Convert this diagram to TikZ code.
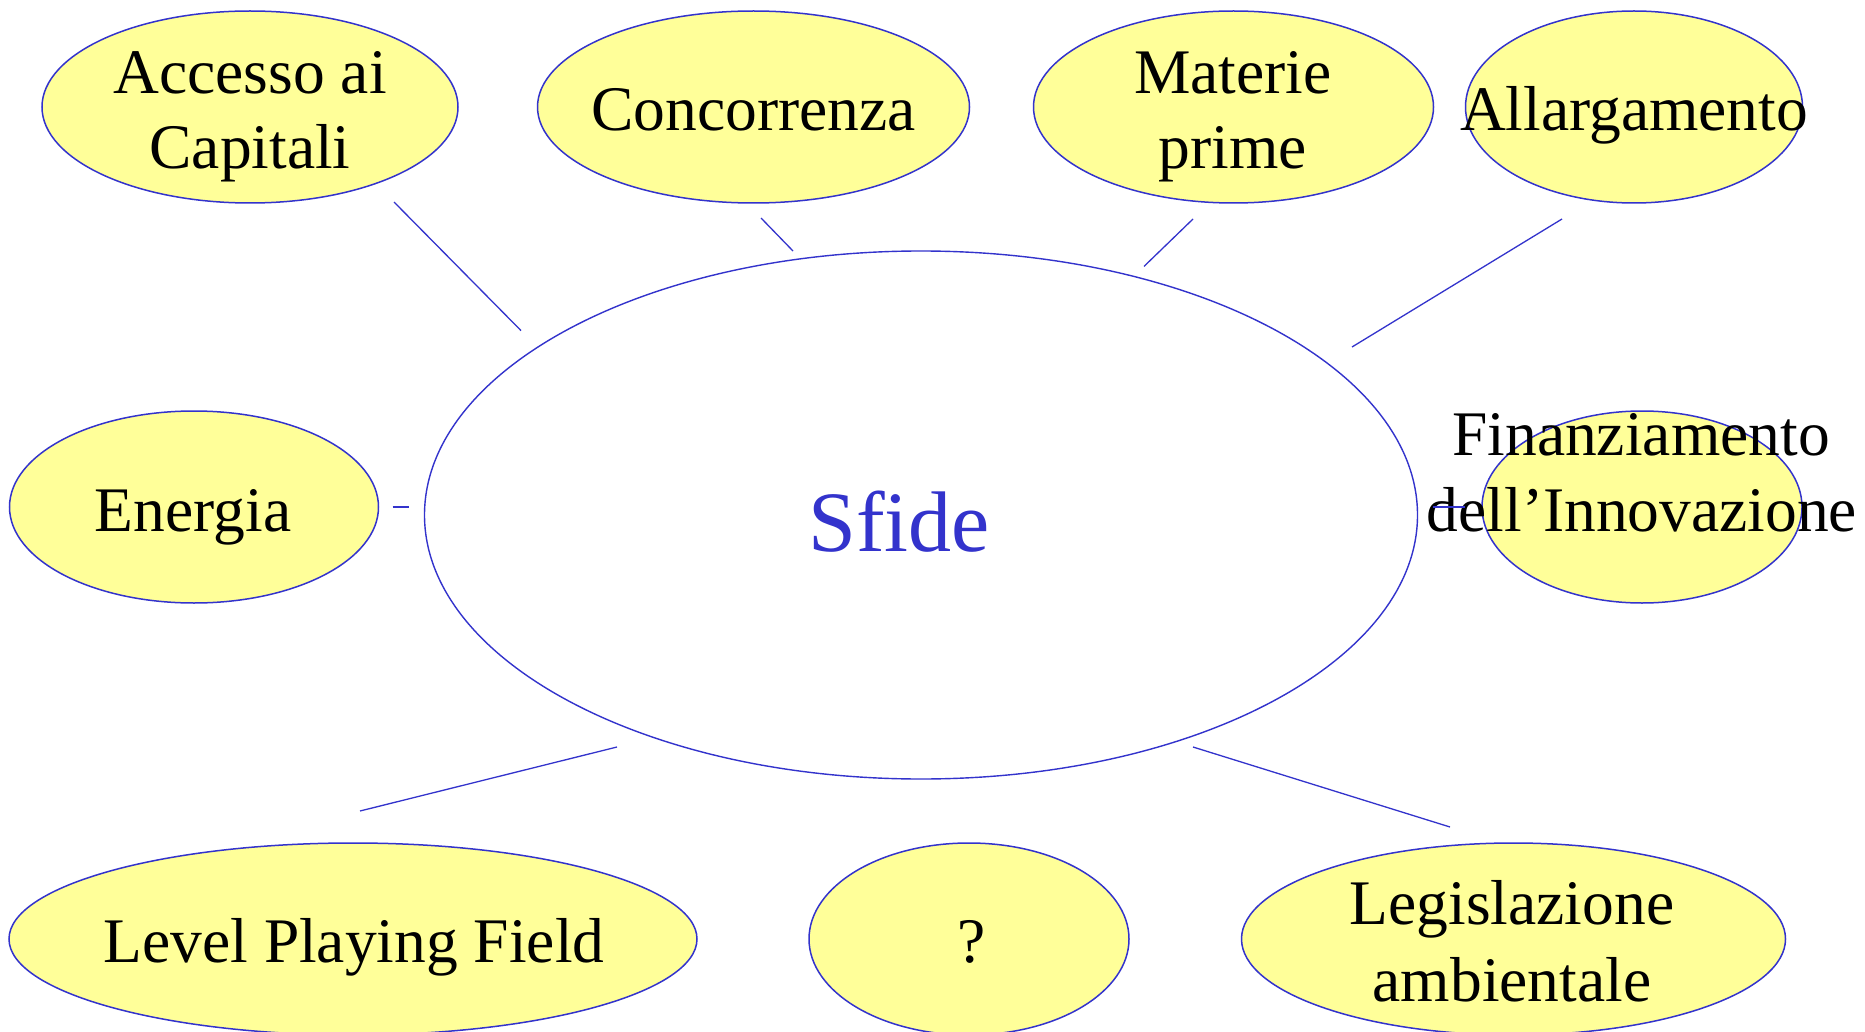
\documentclass[tikz,border=0pt]{standalone}
\usepackage{fontspec}
\setmainfont{Liberation Serif}
\usetikzlibrary{shapes.geometric}
\definecolor{lineblue}{RGB}{51,51,204}
\definecolor{paleyellow}{RGB}{255,255,153}
\tikzset{
  bubble/.style={ellipse, draw=lineblue, line width=1.5pt, fill=paleyellow, inner sep=0pt},
  hub/.style={ellipse, draw=lineblue, line width=1.4pt, fill=white, inner sep=0pt},
  lbl/.style={anchor=base, inner sep=0pt, font=\fontsize{63.5}{77}\selectfont},
  link/.style={draw=lineblue, line width=1.3pt}
}
\begin{document}
\begin{tikzpicture}[x=1pt,y=-1pt]
\useasboundingbox[fill=white] (0,0) rectangle (1865,1032);
% ellipses
\node[hub, minimum width=993pt, minimum height=528pt] (sfide) at (921,515) {};
\node[bubble, minimum width=416pt, minimum height=192pt] (acc) at (250,107) {};
\node[bubble, minimum width=432pt, minimum height=192pt] (conc) at (753.5,107) {};
\node[bubble, minimum width=400pt, minimum height=192pt] (mat) at (1233.5,107) {};
\node[bubble, minimum width=337pt, minimum height=192pt] (all) at (1634,107) {};
\node[bubble, minimum width=369pt, minimum height=192pt] (ene) at (194,507) {};
\node[bubble, minimum width=320pt, minimum height=192pt] (fin) at (1642,507) {};
\node[bubble, minimum width=688pt, minimum height=192pt] (lpf) at (353,939) {};
\node[bubble, minimum width=320pt, minimum height=192pt] (qm) at (969,939) {};
\node[bubble, minimum width=544pt, minimum height=192pt] (leg) at (1513.5,939) {};
% texts
\node[anchor=base, inner sep=0pt, text=lineblue, font=\fontsize{86}{100}\selectfont] (tsfide) at (899,551) {Sfide};
\node[lbl] (tacc1) at (250,93.5) {Accesso ai};
\node[lbl] (tacc2) at (250,168.5) {Capitali};
\node[lbl] (tconc) at (753.5,131) {Concorrenza};
\node[lbl] (tmat1) at (1233,93.5) {Materie};
\node[lbl] (tmat2) at (1233,168.5) {prime};
\node[lbl] (tall) at (1634,131) {Allargamento};
\node[lbl] (tene) at (193,531) {Energia};
\node[lbl] (tfin1) at (1641,455) {Finanziamento};
\node[lbl] (tfin2) at (1642,531.5) {dell’Innovazione};
\node[lbl] (tlpf) at (354,962.5) {Level Playing Field};
\node[lbl] (tqm) at (972,962.5) {?};
\node[lbl] (tleg1) at (1512,924.5) {Legislazione};
\node[lbl] (tleg2) at (1512,1001) {ambientale};
% connector end points
\coordinate (a1) at (394,202); \coordinate (a2) at (521,330.6);
\coordinate (c1) at (761,218); \coordinate (c2) at (793,251);
\coordinate (m1) at (1193,219); \coordinate (m2) at (1144,266.4);
\coordinate (l1) at (1562,219); \coordinate (l2) at (1352,347);
\coordinate (e1) at (392.5,507); \coordinate (e2) at (409,507);
\coordinate (f1) at (1433,507); \coordinate (f2) at (1465,507);
\coordinate (p1) at (617,747); \coordinate (p2) at (360,811);
\coordinate (g1) at (1193,747); \coordinate (g2) at (1450,827);
\draw[link] (a1) -- (a2);
\draw[link] (c1) -- (c2);
\draw[link] (m1) -- (m2);
\draw[link] (l1) -- (l2);
\draw[link] (e1) -- (e2);
\draw[link] (f1) -- (f2);
\draw[link] (p1) -- (p2);
\draw[link] (g1) -- (g2);
\end{tikzpicture}
\end{document}
